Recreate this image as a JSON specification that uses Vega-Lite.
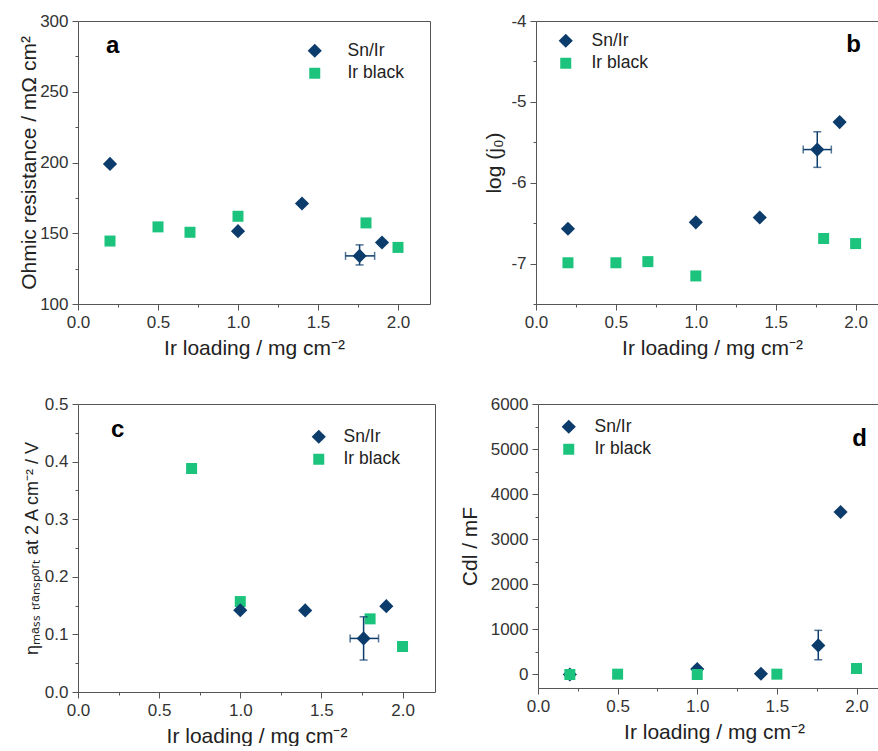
{
  "$schema": "https://vega.github.io/schema/vega-lite/v6.json",
  "background": "white",
  "padding": {"left": 18, "top": 12, "right": 0, "bottom": 0},
  "config": {
    "view": {"stroke": null},
    "font": "Liberation Sans",
    "axis": {
      "labelFont": "Liberation Sans", "labelFontSize": 17, "labelColor": "#333",
      "titleFont": "Liberation Sans", "titleFontSize": 21, "titleColor": "#222", "titleFontWeight": "normal",
      "domainColor": "#555", "tickColor": "#555", "grid": false,
      "labelOverlap": false, "labelFlush": false, "labelBound": false, "labelPadding": 4
    },
    "legend": {
      "orient": "none", "labelFont": "Liberation Sans", "labelFontSize": 17.5, "labelColor": "#222",
      "labelOffset": 17, "rowPadding": 2.5, "padding": 0, "symbolOpacity": 1
    },
    "title": {"font": "Liberation Sans", "fontSize": 24, "fontWeight": "bold", "color": "#000"}
  },
  "resolve": {"scale": {"color": "independent", "shape": "independent", "size": "independent"}, "legend": {"color": "independent", "shape": "independent", "size": "independent"}},
  "datasets": {
    "a": [
      {"x": 0.2, "y": 199, "series": "Sn/Ir"},
      {"x": 1.0, "y": 151.5, "series": "Sn/Ir"},
      {"x": 1.4, "y": 171, "series": "Sn/Ir"},
      {"x": 1.76, "y": 134, "series": "Sn/Ir", "xlo": 1.672, "xhi": 1.854, "ylo": 127.6, "yhi": 141.8},
      {"x": 1.9, "y": 143.5, "series": "Sn/Ir"},
      {"x": 0.2, "y": 144.5, "series": "Ir black"},
      {"x": 0.5, "y": 154.5, "series": "Ir black"},
      {"x": 0.7, "y": 150.7, "series": "Ir black"},
      {"x": 1.0, "y": 162, "series": "Ir black"},
      {"x": 1.8, "y": 157.3, "series": "Ir black"},
      {"x": 2.0, "y": 140, "series": "Ir black"}
    ],
    "b": [
      {"x": 0.2, "y": -6.57, "series": "Sn/Ir"},
      {"x": 1.0, "y": -6.49, "series": "Sn/Ir"},
      {"x": 1.4, "y": -6.43, "series": "Sn/Ir"},
      {"x": 1.76, "y": -5.59, "series": "Sn/Ir", "xlo": 1.672, "xhi": 1.848, "ylo": -5.81, "yhi": -5.37},
      {"x": 1.9, "y": -5.25, "series": "Sn/Ir"},
      {"x": 0.2, "y": -6.99, "series": "Ir black"},
      {"x": 0.5, "y": -6.99, "series": "Ir black"},
      {"x": 0.7, "y": -6.976, "series": "Ir black"},
      {"x": 1.0, "y": -7.153, "series": "Ir black"},
      {"x": 1.8, "y": -6.69, "series": "Ir black"},
      {"x": 2.0, "y": -6.753, "series": "Ir black"}
    ],
    "c": [
      {"x": 0.7, "y": 0.388, "series": "Ir black"},
      {"x": 1.0, "y": 0.157, "series": "Ir black"},
      {"x": 1.8, "y": 0.127, "series": "Ir black"},
      {"x": 2.0, "y": 0.079, "series": "Ir black"},
      {"x": 1.0, "y": 0.142, "series": "Sn/Ir"},
      {"x": 1.4, "y": 0.1416, "series": "Sn/Ir"},
      {"x": 1.76, "y": 0.093, "series": "Sn/Ir", "xlo": 1.677, "xhi": 1.852, "ylo": 0.0555, "yhi": 0.1306},
      {"x": 1.9, "y": 0.149, "series": "Sn/Ir"}
    ],
    "d": [
      {"x": 0.2, "y": 0, "series": "Sn/Ir"},
      {"x": 1.0, "y": 120, "series": "Sn/Ir"},
      {"x": 1.4, "y": 15, "series": "Sn/Ir"},
      {"x": 1.76, "y": 645, "series": "Sn/Ir", "ylo": 326, "yhi": 979},
      {"x": 1.9, "y": 3604, "series": "Sn/Ir"},
      {"x": 0.2, "y": 0, "series": "Ir black"},
      {"x": 0.5, "y": 7, "series": "Ir black"},
      {"x": 1.0, "y": 0, "series": "Ir black"},
      {"x": 1.5, "y": 7, "series": "Ir black"},
      {"x": 2.0, "y": 133, "series": "Ir black"}
    ]
  },
  "vconcat": [
    {
      "spacing": 53,
      "resolve": {"scale": {"color": "independent", "shape": "independent", "size": "independent"}, "legend": {"color": "independent", "shape": "independent", "size": "independent"}},
      "hconcat": [
        {
          "width": 352, "height": 283,
          "title": {"text": "a", "anchor": "start", "frame": "group", "orient": "top", "offset": -46, "dx": 28},
          "data": {"name": "a"},
          "resolve": {"axis": {"x": "independent", "y": "independent"}},
          "layer": [
            {
              "mark": {"type": "point", "filled": true, "opacity": 1},
              "encoding": {
                "x": {"field": "x", "type": "quantitative", "scale": {"domain": [0, 2.2], "nice": false, "zero": false},
                  "axis": {"orient": "bottom", "title": "Ir loading  / mg cm⁻²", "values": [0, 0.25, 0.5, 0.75, 1, 1.25, 1.5, 1.75, 2], "format": ".1f",
                    "labelExpr": "abs(datum.value*2-round(datum.value*2))>0.001 ? '' : datum.label",
                    "tickSize": {"condition": {"test": "abs(datum.value*2-round(datum.value*2))>0.001", "value": 3}, "value": 6}, "titlePadding": 7}},
                "y": {"field": "y", "type": "quantitative", "scale": {"domain": [100, 300], "nice": false, "zero": false},
                  "axis": {"orient": "left", "title": "Ohmic resistance / mΩ cm²", "values": [100, 125, 150, 175, 200, 225, 250, 275, 300],
                    "labelExpr": "datum.value % 50 != 0 ? '' : datum.label",
                    "tickSize": {"condition": {"test": "datum.value % 50 != 0", "value": 3}, "value": 6}, "titlePadding": 0}},
                "color": {"field": "series", "type": "nominal", "scale": {"domain": ["Sn/Ir", "Ir black"], "range": ["#0b3c6b", "#1bc37c"]},
                  "legend": {"title": null, "orient": "none", "legendX": 228, "legendY": 21, "labelOffset": 24}},
                "shape": {"field": "series", "type": "nominal", "scale": {"domain": ["Sn/Ir", "Ir black"], "range": ["diamond", "square"]},
                  "legend": {"title": null, "orient": "none", "legendX": 228, "legendY": 21, "labelOffset": 24}},
                "size": {"field": "series", "type": "nominal", "scale": {"domain": ["Sn/Ir", "Ir black"], "range": [200, 121]},
                  "legend": {"title": null, "orient": "none", "legendX": 228, "legendY": 21, "labelOffset": 24}}
              }
            },
            {
              "transform": [{"filter": "isValid(datum.ylo)"}],
              "mark": {"type": "errorbar", "ticks": {"size": 8}, "color": "#0b3c6b", "thickness": 1.5},
              "encoding": {
                "x": {"field": "x", "type": "quantitative", "scale": {"domain": [0, 2.2], "nice": false, "zero": false}, "axis": null},
                "y": {"field": "ylo", "type": "quantitative", "scale": {"domain": [100, 300], "nice": false, "zero": false}, "axis": null},
                "y2": {"field": "yhi"}
              }
            },
            {
              "transform": [{"filter": "isValid(datum.xlo)"}],
              "mark": {"type": "errorbar", "ticks": {"size": 8}, "color": "#0b3c6b", "thickness": 1.5},
              "encoding": {
                "x": {"field": "xlo", "type": "quantitative", "scale": {"domain": [0, 2.2], "nice": false, "zero": false}, "axis": null},
                "x2": {"field": "xhi"},
                "y": {"field": "y", "type": "quantitative", "scale": {"domain": [100, 300], "nice": false, "zero": false}, "axis": null}
              }
            },
            {
              "mark": {"type": "point", "opacity": 0},
              "encoding": {
                "x": {"field": "x", "type": "quantitative", "scale": {"domain": [0, 2.2], "nice": false, "zero": false},
                  "axis": {"orient": "top", "labels": false, "ticks": false, "title": null, "domain": true}},
                "y": {"field": "y", "type": "quantitative", "scale": {"domain": [100, 300], "nice": false, "zero": false},
                  "axis": {"orient": "right", "labels": false, "ticks": false, "title": null, "domain": true}}
              }
            }
          ]
        },
        {
          "width": 342, "height": 283,
          "title": {"text": "b", "anchor": "end", "frame": "group", "orient": "top", "offset": -45, "dx": -17},
          "data": {"name": "b"},
          "resolve": {"axis": {"x": "independent", "y": "independent"}},
          "layer": [
            {
              "mark": {"type": "point", "filled": true, "opacity": 1},
              "encoding": {
                "x": {"field": "x", "type": "quantitative", "scale": {"domain": [0, 2.14], "nice": false, "zero": false},
                  "axis": {"orient": "bottom", "title": "Ir loading  / mg cm⁻²", "titleX": 176, "values": [0, 0.25, 0.5, 0.75, 1, 1.25, 1.5, 1.75, 2], "format": ".1f",
                    "labelExpr": "abs(datum.value*2-round(datum.value*2))>0.001 ? '' : datum.label",
                    "tickSize": {"condition": {"test": "abs(datum.value*2-round(datum.value*2))>0.001", "value": 3}, "value": 6}, "titlePadding": 7}},
                "y": {"field": "y", "type": "quantitative", "scale": {"domain": [-7.5, -4], "nice": false, "zero": false},
                  "axis": {"orient": "left", "title": "log (j₀)", "values": [-7.5, -7, -6.5, -6, -5.5, -5, -4.5, -4],
                    "labelExpr": "datum.value % 1 != 0 ? '' : '' + datum.value",
                    "tickSize": {"condition": {"test": "datum.value % 1 != 0", "value": 3}, "value": 6}, "titlePadding": 6}},
                "color": {"field": "series", "type": "nominal", "scale": {"domain": ["Sn/Ir", "Ir black"], "range": ["#0b3c6b", "#1bc37c"]},
                  "legend": {"title": null, "orient": "none", "legendX": 21, "legendY": 11, "labelOffset": 17}},
                "shape": {"field": "series", "type": "nominal", "scale": {"domain": ["Sn/Ir", "Ir black"], "range": ["diamond", "square"]},
                  "legend": {"title": null, "orient": "none", "legendX": 21, "legendY": 11, "labelOffset": 17}},
                "size": {"field": "series", "type": "nominal", "scale": {"domain": ["Sn/Ir", "Ir black"], "range": [200, 121]},
                  "legend": {"title": null, "orient": "none", "legendX": 21, "legendY": 11, "labelOffset": 17}}
              }
            },
            {
              "transform": [{"filter": "isValid(datum.ylo)"}],
              "mark": {"type": "errorbar", "ticks": {"size": 8}, "color": "#0b3c6b", "thickness": 1.5},
              "encoding": {
                "x": {"field": "x", "type": "quantitative", "scale": {"domain": [0, 2.14], "nice": false, "zero": false}, "axis": null},
                "y": {"field": "ylo", "type": "quantitative", "scale": {"domain": [-7.5, -4], "nice": false, "zero": false}, "axis": null},
                "y2": {"field": "yhi"}
              }
            },
            {
              "transform": [{"filter": "isValid(datum.xlo)"}],
              "mark": {"type": "errorbar", "ticks": {"size": 8}, "color": "#0b3c6b", "thickness": 1.5},
              "encoding": {
                "x": {"field": "xlo", "type": "quantitative", "scale": {"domain": [0, 2.14], "nice": false, "zero": false}, "axis": null},
                "x2": {"field": "xhi"},
                "y": {"field": "y", "type": "quantitative", "scale": {"domain": [-7.5, -4], "nice": false, "zero": false}, "axis": null}
              }
            },
            {
              "mark": {"type": "point", "opacity": 0},
              "encoding": {
                "x": {"field": "x", "type": "quantitative", "scale": {"domain": [0, 2.14], "nice": false, "zero": false},
                  "axis": {"orient": "top", "labels": false, "ticks": false, "title": null, "domain": true}},
                "y": {"field": "y", "type": "quantitative", "scale": {"domain": [-7.5, -4], "nice": false, "zero": false}, "axis": null}
              }
            }
          ]
        }
      ]
    },
    {
      "spacing": 24,
      "resolve": {"scale": {"color": "independent", "shape": "independent", "size": "independent"}, "legend": {"color": "independent", "shape": "independent", "size": "independent"}},
      "hconcat": [
        {
          "width": 357, "height": 288,
          "title": {"text": "c", "anchor": "start", "frame": "group", "orient": "top", "offset": -47, "dx": 33},
          "data": {"name": "c"},
          "resolve": {"axis": {"x": "independent", "y": "independent"}},
          "layer": [
            {
              "mark": {"type": "point", "filled": true, "opacity": 1},
              "encoding": {
                "x": {"field": "x", "type": "quantitative", "scale": {"domain": [0, 2.2], "nice": false, "zero": false},
                  "axis": {"orient": "bottom", "title": "Ir loading / mg cm⁻²", "values": [0, 0.25, 0.5, 0.75, 1, 1.25, 1.5, 1.75, 2], "format": ".1f",
                    "labelExpr": "abs(datum.value*2-round(datum.value*2))>0.001 ? '' : datum.label",
                    "tickSize": {"condition": {"test": "abs(datum.value*2-round(datum.value*2))>0.001", "value": 3}, "value": 6}, "titlePadding": 7}},
                "y": {"field": "y", "type": "quantitative", "scale": {"domain": [0, 0.5], "nice": false, "zero": false},
                  "axis": {"orient": "left", "title": "ηₘₐₛₛ ₜᵣₐₙₛₚₒᵣₜ at 2 A cm⁻² / V", "titleFontSize": 18, "values": [0, 0.05, 0.1, 0.15, 0.2, 0.25, 0.3, 0.35, 0.4, 0.45, 0.5], "format": ".1f",
                    "labelExpr": "abs(datum.value*10-round(datum.value*10))>0.001 ? '' : datum.label",
                    "tickSize": {"condition": {"test": "abs(datum.value*10-round(datum.value*10))>0.001", "value": 3}, "value": 6}, "titlePadding": 3}},
                "color": {"field": "series", "type": "nominal", "scale": {"domain": ["Sn/Ir", "Ir black"], "range": ["#0b3c6b", "#1bc37c"]},
                  "legend": {"title": null, "orient": "none", "legendX": 232, "legendY": 24, "labelOffset": 16}},
                "shape": {"field": "series", "type": "nominal", "scale": {"domain": ["Sn/Ir", "Ir black"], "range": ["diamond", "square"]},
                  "legend": {"title": null, "orient": "none", "legendX": 232, "legendY": 24, "labelOffset": 16}},
                "size": {"field": "series", "type": "nominal", "scale": {"domain": ["Sn/Ir", "Ir black"], "range": [200, 121]},
                  "legend": {"title": null, "orient": "none", "legendX": 232, "legendY": 24, "labelOffset": 16}}
              }
            },
            {
              "transform": [{"filter": "isValid(datum.ylo)"}],
              "mark": {"type": "errorbar", "ticks": {"size": 8}, "color": "#0b3c6b", "thickness": 1.5},
              "encoding": {
                "x": {"field": "x", "type": "quantitative", "scale": {"domain": [0, 2.2], "nice": false, "zero": false}, "axis": null},
                "y": {"field": "ylo", "type": "quantitative", "scale": {"domain": [0, 0.5], "nice": false, "zero": false}, "axis": null},
                "y2": {"field": "yhi"}
              }
            },
            {
              "transform": [{"filter": "isValid(datum.xlo)"}],
              "mark": {"type": "errorbar", "ticks": {"size": 8}, "color": "#0b3c6b", "thickness": 1.5},
              "encoding": {
                "x": {"field": "xlo", "type": "quantitative", "scale": {"domain": [0, 2.2], "nice": false, "zero": false}, "axis": null},
                "x2": {"field": "xhi"},
                "y": {"field": "y", "type": "quantitative", "scale": {"domain": [0, 0.5], "nice": false, "zero": false}, "axis": null}
              }
            },
            {
              "mark": {"type": "point", "opacity": 0},
              "encoding": {
                "x": {"field": "x", "type": "quantitative", "scale": {"domain": [0, 2.2], "nice": false, "zero": false},
                  "axis": {"orient": "top", "labels": false, "ticks": false, "title": null, "domain": true}},
                "y": {"field": "y", "type": "quantitative", "scale": {"domain": [0, 0.5], "nice": false, "zero": false},
                  "axis": {"orient": "right", "labels": false, "ticks": false, "title": null, "domain": true}}
              }
            }
          ]
        },
        {
          "width": 340, "height": 284,
          "title": {"text": "d", "anchor": "end", "frame": "group", "orient": "top", "offset": -56, "dx": -11},
          "data": {"name": "d"},
          "resolve": {"axis": {"x": "independent", "y": "independent"}},
          "layer": [
            {
              "mark": {"type": "point", "filled": true, "opacity": 1},
              "encoding": {
                "x": {"field": "x", "type": "quantitative", "scale": {"domain": [0, 2.135], "nice": false, "zero": false},
                  "axis": {"orient": "bottom", "title": "Ir loading  / mg cm⁻²", "titleX": 176, "values": [0, 0.25, 0.5, 0.75, 1, 1.25, 1.5, 1.75, 2], "format": ".1f",
                    "labelExpr": "abs(datum.value*2-round(datum.value*2))>0.001 ? '' : datum.label",
                    "tickSize": {"condition": {"test": "abs(datum.value*2-round(datum.value*2))>0.001", "value": 3}, "value": 6}, "titlePadding": 7}},
                "y": {"field": "y", "type": "quantitative", "scale": {"domain": [-300, 6000], "nice": false, "zero": false},
                  "axis": {"orient": "left", "title": "Cdl / mF", "values": [0, 500, 1000, 1500, 2000, 2500, 3000, 3500, 4000, 4500, 5000, 5500, 6000],
                    "labelExpr": "datum.value % 1000 != 0 ? '' : '' + datum.value",
                    "tickSize": {"condition": {"test": "datum.value % 1000 != 0", "value": 3}, "value": 6}, "titlePadding": 10}},
                "color": {"field": "series", "type": "nominal", "scale": {"domain": ["Sn/Ir", "Ir black"], "range": ["#0b3c6b", "#1bc37c"]},
                  "legend": {"title": null, "orient": "none", "legendX": 22, "legendY": 14, "labelOffset": 17}},
                "shape": {"field": "series", "type": "nominal", "scale": {"domain": ["Sn/Ir", "Ir black"], "range": ["diamond", "square"]},
                  "legend": {"title": null, "orient": "none", "legendX": 22, "legendY": 14, "labelOffset": 17}},
                "size": {"field": "series", "type": "nominal", "scale": {"domain": ["Sn/Ir", "Ir black"], "range": [200, 121]},
                  "legend": {"title": null, "orient": "none", "legendX": 22, "legendY": 14, "labelOffset": 17}}
              }
            },
            {
              "transform": [{"filter": "isValid(datum.ylo)"}],
              "mark": {"type": "errorbar", "ticks": {"size": 8}, "color": "#0b3c6b", "thickness": 1.5},
              "encoding": {
                "x": {"field": "x", "type": "quantitative", "scale": {"domain": [0, 2.135], "nice": false, "zero": false}, "axis": null},
                "y": {"field": "ylo", "type": "quantitative", "scale": {"domain": [-300, 6000], "nice": false, "zero": false}, "axis": null},
                "y2": {"field": "yhi"}
              }
            },
            {
              "mark": {"type": "point", "opacity": 0},
              "encoding": {
                "x": {"field": "x", "type": "quantitative", "scale": {"domain": [0, 2.135], "nice": false, "zero": false},
                  "axis": {"orient": "top", "labels": false, "ticks": false, "title": null, "domain": true}},
                "y": {"field": "y", "type": "quantitative", "scale": {"domain": [-300, 6000], "nice": false, "zero": false}, "axis": null}
              }
            }
          ]
        }
      ]
    }
  ],
  "spacing": 37
}
